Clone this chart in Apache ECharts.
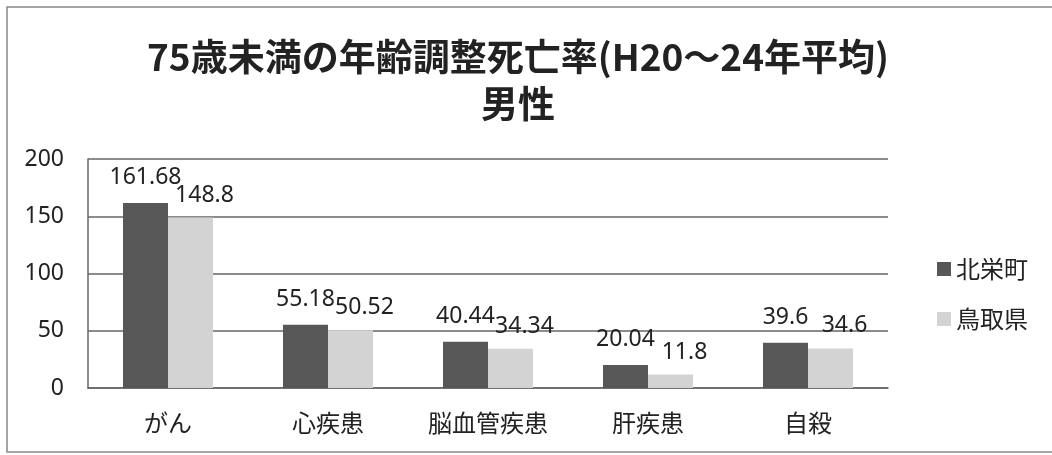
<!DOCTYPE html>
<html><head><meta charset="utf-8">
<script src="https://cdn.jsdelivr.net/npm/echarts@6/dist/echarts.min.js"></script>
<style>html,body{margin:0;padding:0;background:#fff}#c{width:1052px;height:455px}</style>
</head><body><div id="c"></div>
<script>
const categories = ['がん','心疾患','脳血管疾患','肝疾患','自殺'];
const seriesNames = ['北栄町','鳥取県'];
const hokuei = [161.68, 55.18, 40.44, 20.04, 39.6];
const tottori = [148.8, 50.52, 34.34, 11.8, 34.6];
const yTicks = [0, 50, 100, 150, 200];

const font = '"Noto Sans CJK JP","Noto Sans",sans-serif';
const chart = echarts.init(document.getElementById('c'));
chart.setOption({
  animation: false,
  textStyle: {fontFamily: font},
  title: {
    text: '75歳未満の年齢調整死亡率(H20～24年平均)\n男性',
    left: 513, top: 28, textAlign: 'center',
    textStyle: {fontSize: 37, fontWeight: 'bold', color: '#222', lineHeight: 47, fontFamily: font}
  },
  graphic: [{type: 'rect', shape: {x: 7, y: 7, width: 1060, height: 445}, style: {fill: 'none', stroke: '#888', lineWidth: 1.5}}],
  legend: {
    orient: 'vertical', left: 932, top: 252, itemGap: 26, itemWidth: 14, itemHeight: 14,
    icon: 'rect',
    textStyle: {fontSize: 24, color: '#222', fontFamily: font},
    data: seriesNames
  },
  grid: {left: 88, right: 164, top: 159, bottom: 67},
  xAxis: {
    type: 'category', data: categories,
    axisLine: {lineStyle: {color: '#666', width: 1.5}},
    axisTick: {show: false},
    axisLabel: {fontSize: 24, color: '#222', margin: 23, fontFamily: font}
  },
  yAxis: {
    type: 'value', min: 0, max: 200, interval: 50,
    axisLine: {show: true, lineStyle: {color: '#666', width: 1.5}},
    axisTick: {show: false},
    splitLine: {lineStyle: {color: '#666', width: 1.5}},
    axisLabel: {fontSize: 23, color: '#222', margin: 24, fontFamily: '"Noto Sans",sans-serif',
      formatter: v => yTicks.includes(v) ? String(v) : ''}
  },
  series: [
    {name: seriesNames[0], type: 'bar', data: hokuei, barWidth: 45, barGap: '0%',
     itemStyle: {color: '#575757'},
     label: {show: true, position: 'top', distance: 14, fontSize: 23, color: '#222', fontFamily: '"Noto Sans",sans-serif'}},
    {name: seriesNames[1], type: 'bar', data: tottori, barWidth: 45,
     itemStyle: {color: '#d3d3d3'},
     label: {show: true, position: 'top', distance: 11, offset: [14, 0], fontSize: 23, color: '#222', fontFamily: '"Noto Sans",sans-serif'}}
  ]
});
</script></body></html>
